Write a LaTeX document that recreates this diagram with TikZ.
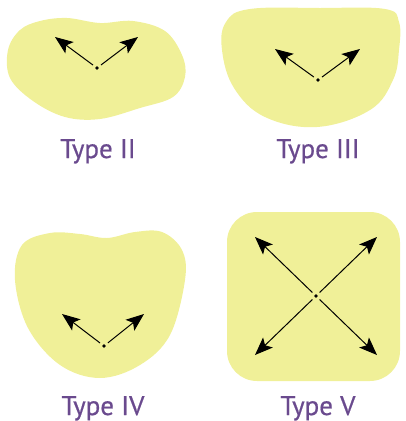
\documentclass[tikz,border=0pt]{standalone}
\usepackage{fontspec}
\setmainfont{PT Sans}[FakeBold=0.6]
\usetikzlibrary{arrows.meta}
\definecolor{blobyellow}{RGB}{240,240,152}
\definecolor{labelpurple}{RGB}{106,74,142}
\tikzset{
  blob/.style={fill=blobyellow, draw=none},
  centre/.style={circle, fill=black, inner sep=0pt, minimum size=3.6pt},
  vec/.style={-{Stealth[length=18pt,width=14pt,inset=4pt]}, line width=1pt, shorten <=3pt},
  typelabel/.style={text=labelpurple, font=\fontsize{27}{30}\selectfont, inner sep=0pt, anchor=base}
}
\begin{document}
\begin{tikzpicture}[x=1pt,y=-1pt]
\useasboundingbox (0,0) rectangle (405,421);
% Type II
\fill[blob] plot[smooth cycle, tension=0.6] coordinates {
 (20,30) (40,21) (67,18) (100,23) (133,21) (165,31) (182,55) (185,77)
 (173,97) (140,108) (100,119) (65,117) (33,101) (10,78) (8,50)};
\node[centre] (c2) at (97,68) {};
\coordinate (c2l) at (55,37);
\coordinate (c2r) at (138,37);
\draw[vec] (c2) -- (c2l);
\draw[vec] (c2) -- (c2r);
\node[typelabel] (t2) at (98,158) {Type II};
% Type III
\fill[blob] plot[smooth cycle, tension=0.65] coordinates {
 (250,9) (320,8) (385,9) (399,22) (399,50) (393,80) (370,110) (317,127)
 (265,117) (234,88) (222,50) (226,22)};
\node[centre] (c3) at (318,80) {};
\coordinate (c3l) at (275,49);
\coordinate (c3r) at (360,49);
\draw[vec] (c3) -- (c3l);
\draw[vec] (c3) -- (c3r);
\node[typelabel] (t3) at (318,158) {Type III};
% Type IV
\fill[blob] plot[smooth cycle, tension=0.6] coordinates {
 (50,233) (80,234) (107,238) (135,232) (162,232) (182,250) (185,280)
 (170,335) (140,365) (100,378) (60,365) (28,328) (15,280) (22,245)};
\node[centre] (c4) at (104,346) {};
\coordinate (c4l) at (62,314);
\coordinate (c4r) at (144,314);
\draw[vec] (c4) -- (c4l);
\draw[vec] (c4) -- (c4r);
\node[typelabel] (t4) at (103,415) {Type IV};
% Type V
\fill[blob, rounded corners=30pt] (227,212) rectangle (400,381);
\node[centre] (c5) at (316,296) {};
\coordinate (c5a) at (255,237);
\coordinate (c5b) at (377,237);
\coordinate (c5c) at (255,355);
\coordinate (c5d) at (377,355);
\draw[vec] (c5) -- (c5a);
\draw[vec] (c5) -- (c5b);
\draw[vec] (c5) -- (c5c);
\draw[vec] (c5) -- (c5d);
\node[typelabel] (t5) at (318,415) {Type V};
\end{tikzpicture}
\end{document}
